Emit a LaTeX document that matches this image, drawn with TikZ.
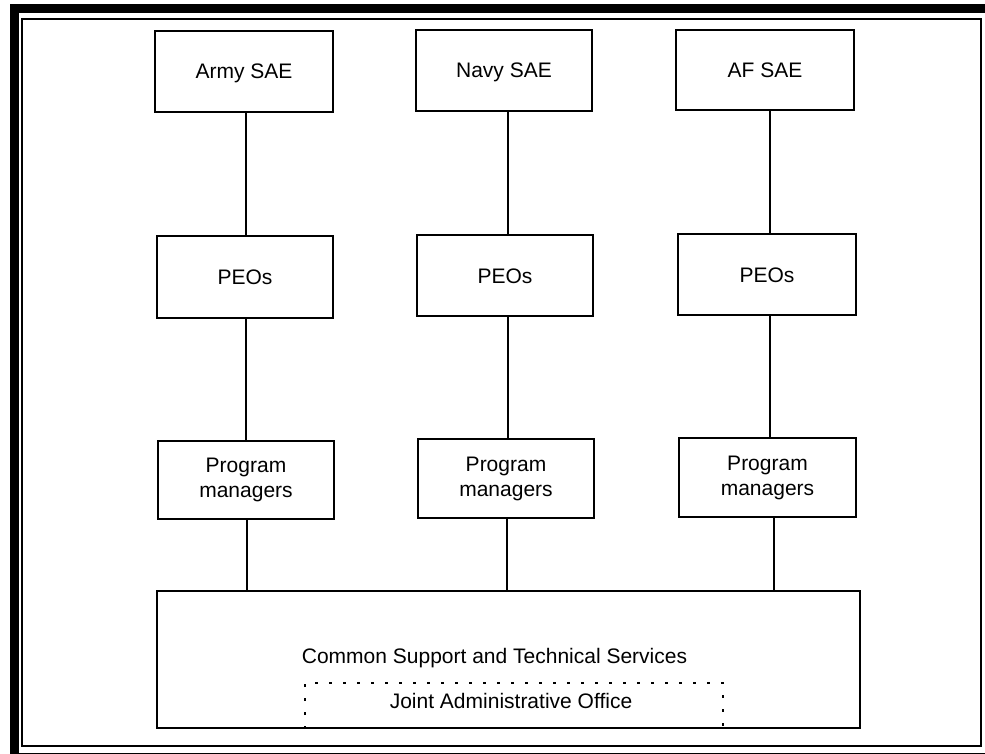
\documentclass[tikz,border=0pt]{standalone}
\usepackage{fontspec}
\setmainfont{Liberation Sans}
\begin{document}
\begin{tikzpicture}[x=1pt,y=-1pt,
  orgbox/.style={draw=black,line width=2pt,inner sep=0pt,align=center,
    font=\fontsize{21}{25}\selectfont},
  onebox/.style={orgbox,text height=15pt,text depth=0pt},
  link/.style={line width=2pt},
  dashbox/.style={line width=1.6pt,dash pattern=on 3pt off 11pt}]
\useasboundingbox (0,0) rectangle (985,754);
\clip (0,0) rectangle (985,754);
% frame
\draw[line width=9pt] (14,9) rectangle (993,757);
\draw[line width=2pt] (22,19) rectangle (981,746);
% top row
\node[onebox,minimum width=178pt,minimum height=81pt] (saeA) at (244,71.5) {Army SAE};
\node[onebox,minimum width=176pt,minimum height=81pt] (saeN) at (504,70.5) {Navy SAE};
\node[onebox,minimum width=178pt,minimum height=80pt] (saeF) at (765,70) {AF SAE};
% PEO row
\node[onebox,minimum width=176pt,minimum height=82pt] (peoA) at (245,277) {PEOs};
\node[onebox,minimum width=176pt,minimum height=81pt] (peoN) at (505,275.5) {PEOs};
\node[onebox,minimum width=178pt,minimum height=81pt] (peoF) at (767,274.5) {PEOs};
% PM row
\node[orgbox,minimum width=176pt,minimum height=78pt] (pmA) at (246,480) {Program\\managers};
\node[orgbox,minimum width=176pt,minimum height=79pt] (pmN) at (506,478.5) {Program\\managers};
\node[orgbox,minimum width=177pt,minimum height=79pt] (pmF) at (767.5,477.5) {Program\\managers};
% bottom box
\node[orgbox,minimum width=703pt,minimum height=137pt] (css) at (508.5,659.5) {};
\node[font=\fontsize{21}{25}\selectfont,inner sep=0pt,text height=15pt,text depth=0pt] (csstxt) at (494.5,655.5) {Common Support and Technical Services};
\coordinate (jaoTL) at (305,683);
\coordinate (jaoTR) at (723,683);
\draw[dashbox] (css.south -| jaoTL) -- (jaoTL) -- (jaoTR) -- (css.south -| jaoTR);
\node[font=\fontsize{21}{25}\selectfont,inner sep=0pt,text height=15pt,text depth=0pt] (jao) at (511,701) {Joint Administrative Office};
% connector columns
\coordinate (cA1) at (246,0);
\coordinate (cN1) at (508,0);
\coordinate (cF1) at (770,0);
\coordinate (cA2) at (247,0);
\coordinate (cN2) at (507,0);
\coordinate (cF2) at (774,0);
\draw[link] (saeA.south -| cA1) -- (peoA.north -| cA1);
\draw[link] (saeN.south -| cN1) -- (peoN.north -| cN1);
\draw[link] (saeF.south -| cF1) -- (peoF.north -| cF1);
\draw[link] (peoA.south -| cA1) -- (pmA.north -| cA1);
\draw[link] (peoN.south -| cN1) -- (pmN.north -| cN1);
\draw[link] (peoF.south -| cF1) -- (pmF.north -| cF1);
\draw[link] (pmA.south -| cA2) -- (css.north -| cA2);
\draw[link] (pmN.south -| cN2) -- (css.north -| cN2);
\draw[link] (pmF.south -| cF2) -- (css.north -| cF2);
\end{tikzpicture}
\end{document}
